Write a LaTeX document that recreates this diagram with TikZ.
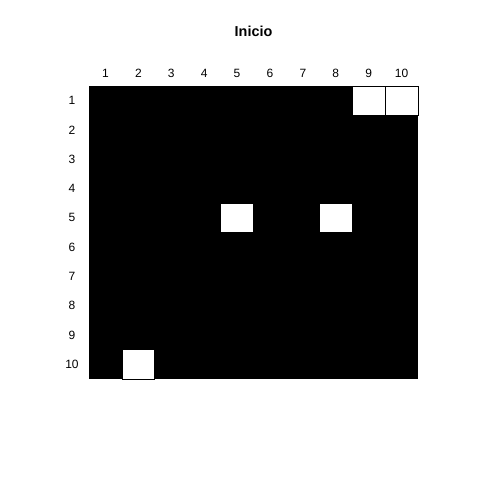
\documentclass[tikz,border=0pt]{standalone}
\usepackage{fontspec}
\setmainfont{Liberation Sans}
\usepackage{tikz}

\begin{document}
\begin{tikzpicture}[x=1bp, y=-1bp, line width=0.75bp,
    lbl/.style={font=\fontsize{12bp}{14bp}\selectfont, inner sep=0pt},
    hole/.style={fill=white, draw=black}]
    % keep the page at 480 x 480
    \useasboundingbox (0, 0) rectangle (480, 480);

    % title
    \node[font=\bfseries\fontsize{14.4bp}{17bp}\selectfont, inner sep=0pt] (title) at (253.5, 31) {Inicio};

    % draw black board
    \fill[color=black] (89, 86) rectangle (418, 379);

    % draw white cells (row, column)
    \foreach \r/\c in {1/9, 1/10, 5/5, 5/8, 10/2}
        \draw[hole] (89 + 32.9 * \c - 32.9, 86 + 29.3 * \r - 29.3) rectangle (89 + 32.9 * \c, 86 + 29.3 * \r);

    % column and row labels
    \foreach \i in {1,...,10} {
        \node[lbl] (col\i) at (89 + 32.9 * \i - 16.45, 73) {\i};
        \node[lbl] (row\i) at (72, 86 + 29.3 * \i - 14.65) {\i};
    }
\end{tikzpicture}
\end{document}
